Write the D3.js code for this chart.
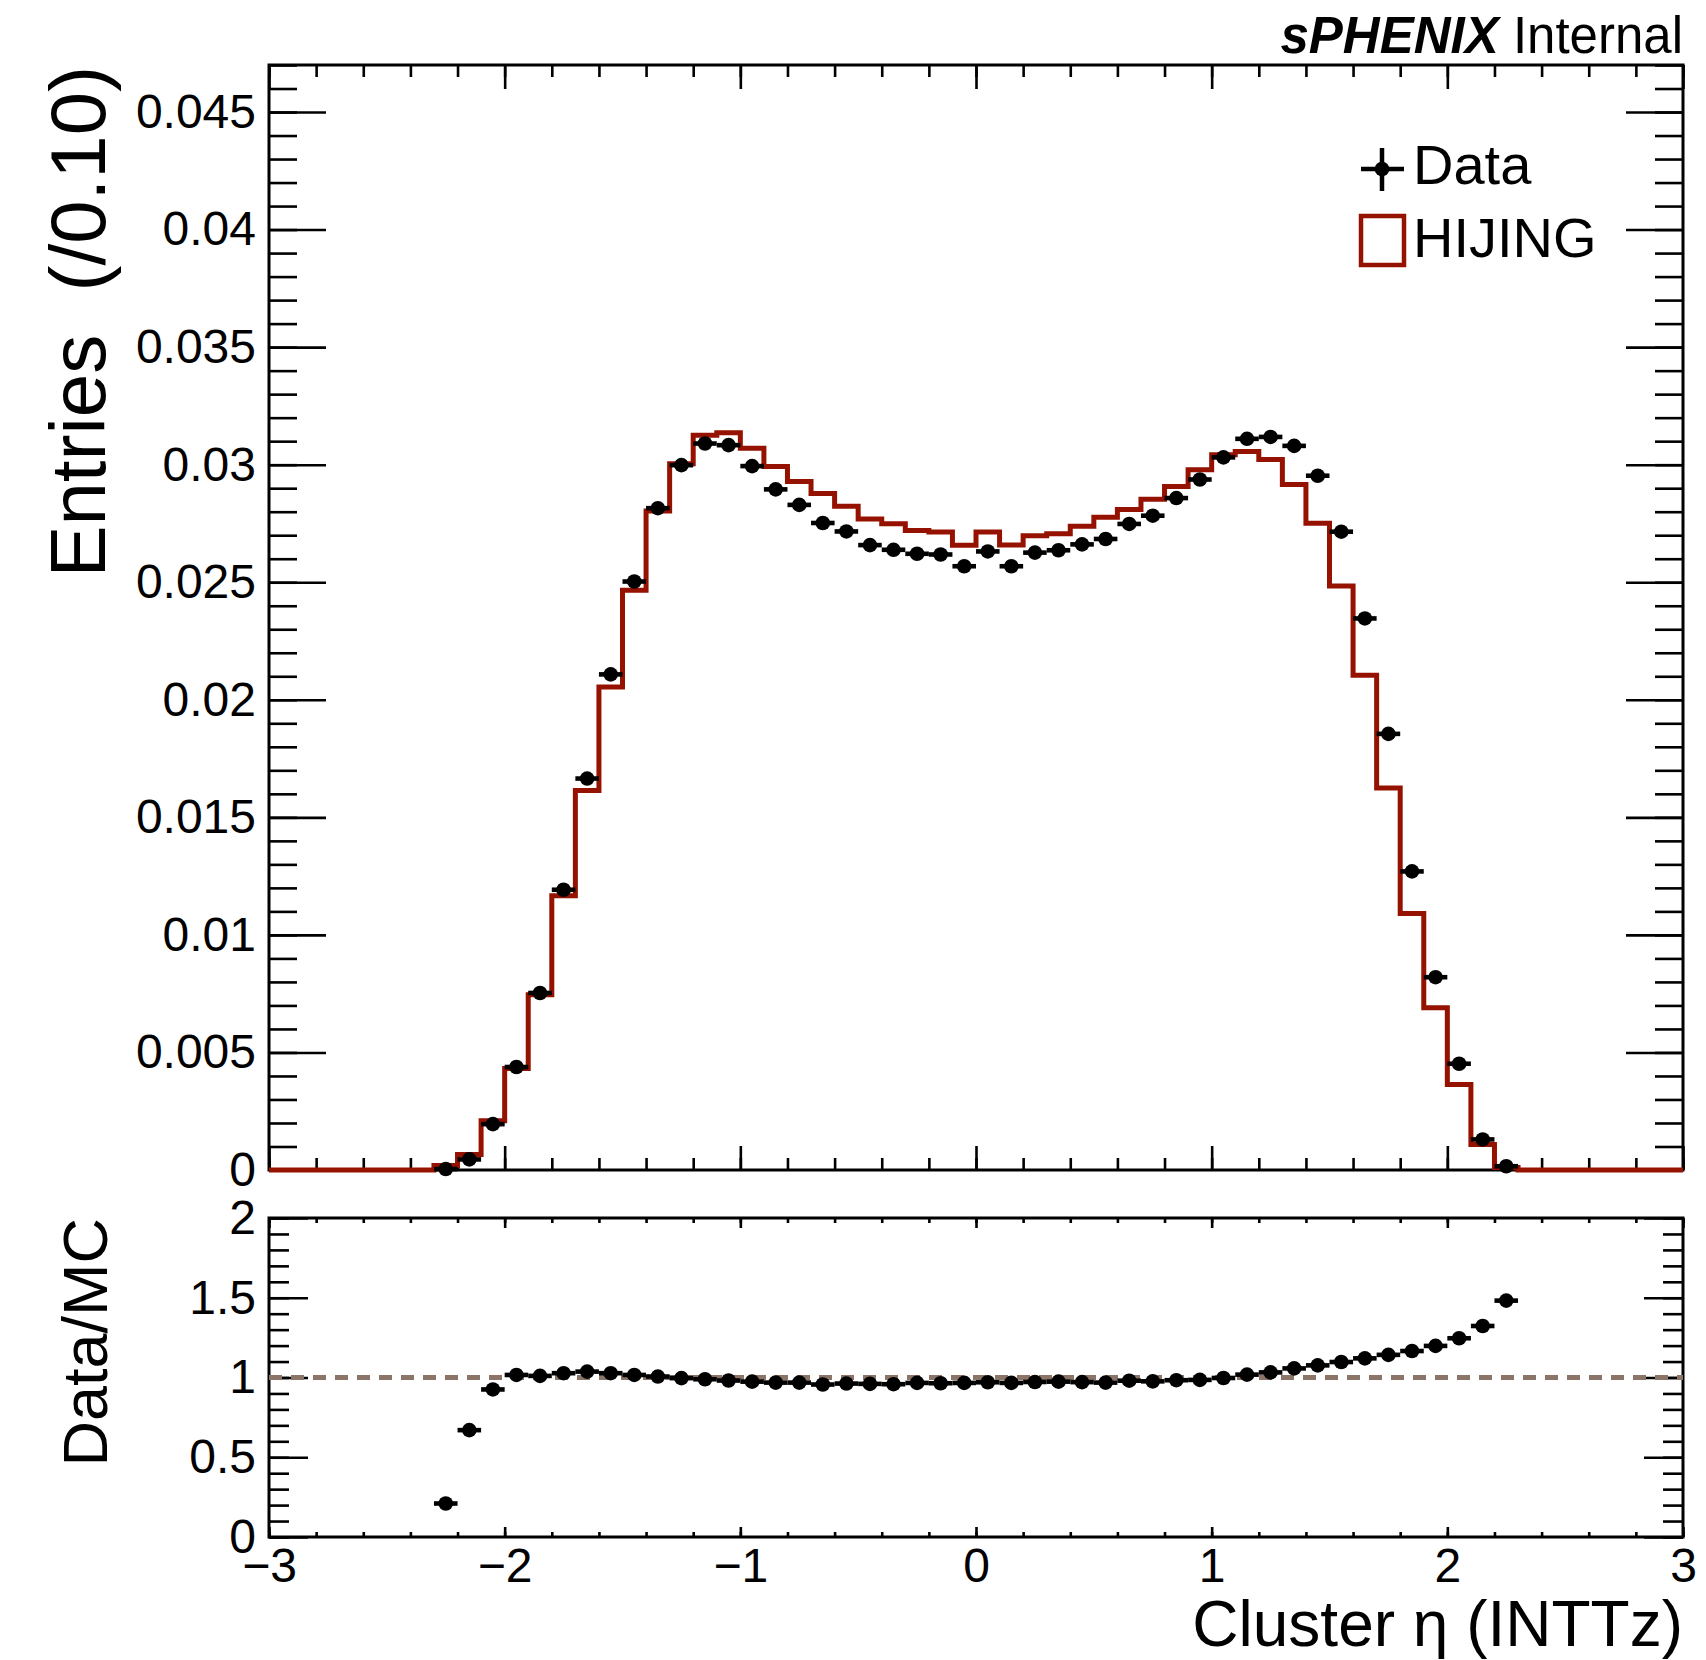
<!DOCTYPE html>
<html>
<head>
<meta charset="utf-8">
<script src="https://cdn.jsdelivr.net/npm/d3@7/dist/d3.min.js"></script>
<style>
  body { margin: 0; background: #fff; }
  text { font-family: "Liberation Sans", Arial, Helvetica, sans-serif; fill: #000; }
</style>
</head>
<body>
<svg id="chart" width="1706" height="1660"></svg>
<script>
// bin centres of the filled bins (bin width 0.10)
const etaCenters = [
  -2.25, -2.15, -2.05, -1.95, -1.85, -1.75, -1.65, -1.55, -1.45, -1.35,
  -1.25, -1.15, -1.05, -0.95, -0.85, -0.75, -0.65, -0.55, -0.45, -0.35,
  -0.25, -0.15, -0.05, 0.05, 0.15, 0.25, 0.35, 0.45, 0.55, 0.65,
  0.75, 0.85, 0.95, 1.05, 1.15, 1.25, 1.35, 1.45, 1.55, 1.65,
  1.75, 1.85, 1.95, 2.05, 2.15, 2.25
];

const dataValues = [
  0.00004, 0.00045, 0.00195, 0.00438, 0.00753, 0.01192, 0.01665, 0.02108, 0.02503, 0.02815,
  0.02998, 0.03090, 0.03083, 0.02994, 0.02895, 0.02829, 0.02752, 0.02716, 0.02658, 0.02638,
  0.02621, 0.02618, 0.02568, 0.02631, 0.02568, 0.02626, 0.02636, 0.02661, 0.02684, 0.02748,
  0.02783, 0.02858, 0.02937, 0.03031, 0.03110, 0.03118, 0.03080, 0.02953, 0.02715, 0.02346,
  0.01855, 0.01270, 0.00820, 0.00452, 0.00130, 0.00016
];

const hijingValues = [
  0.00019, 0.00066, 0.00210, 0.00432, 0.00745, 0.01166, 0.01614, 0.02054, 0.02466, 0.02803,
  0.03004, 0.03125, 0.03136, 0.03070, 0.02992, 0.02928, 0.02877, 0.02823, 0.02769, 0.02749,
  0.02720, 0.02714, 0.02657, 0.02714, 0.02658, 0.02698, 0.02706, 0.02738, 0.02776, 0.02809,
  0.02853, 0.02907, 0.02978, 0.03042, 0.03056, 0.03022, 0.02916, 0.02751, 0.02484, 0.02104,
  0.01625, 0.01091, 0.00690, 0.00364, 0.00108, 0.00011
];

const ratioValues = [
  0.21, 0.67, 0.925, 1.016, 1.010, 1.027, 1.037, 1.027, 1.016, 1.006,
  0.996, 0.989, 0.981, 0.974, 0.968, 0.968, 0.956, 0.962, 0.960, 0.958,
  0.966, 0.964, 0.966, 0.970, 0.966, 0.972, 0.974, 0.971, 0.968, 0.980,
  0.976, 0.983, 0.985, 0.997, 1.018, 1.032, 1.057, 1.076, 1.097, 1.120,
  1.142, 1.166, 1.198, 1.246, 1.323, 1.482
];

const xTicks = [-3, -2, -1, 0, 1, 2, 3];
const xTickLabels = ["\u22123", "\u22122", "\u22121", "0", "1", "2", "3"];
const yTicks = [0, 0.005, 0.01, 0.015, 0.02, 0.025, 0.03, 0.035, 0.04, 0.045];
const yTickLabels = ["0", "0.005", "0.01", "0.015", "0.02", "0.025", "0.03", "0.035", "0.04", "0.045"];
const ratioTicks = [0, 0.5, 1, 1.5, 2];
const ratioTickLabels = ["0", "0.5", "1", "1.5", "2"];

const binWidth = 0.1;
const histColor = "#961200";
const dashColor = "#8b7468";

const svg = d3.select("#chart");

const left = 269, right = 1683;
const topY0 = 65, topY1 = 1170;
const botY0 = 1218, botY1 = 1537;

const x = d3.scaleLinear().domain([-3, 3]).range([left, right]);
const yTop = d3.scaleLinear().domain([0, 0.047]).range([topY1, topY0]);
const yBot = d3.scaleLinear().domain([0, 2]).range([botY1, botY0]);

const xMinor = d3.range(-3, 3.0001, 0.2);

const drawAxes = (yScale, y0, y1, yMajor, yMinor, yLabels, opt) => {
    const g = svg.append("g").attr("class", "axes");

    const strip = sel => {
        sel.select(".domain").remove();
        sel.selectAll("line").attr("stroke", "#000").attr("stroke-width", 2.6);
    };

    // x ticks, bottom and top edge
    g.append("g").attr("transform", `translate(0,${y1})`)
        .call(d3.axisBottom(x).tickValues(xMinor).tickSize(-opt.xMinorLen).tickFormat(""))
        .call(strip);
    g.append("g").attr("transform", `translate(0,${y1})`)
        .call(d3.axisBottom(x).tickValues(xTicks).tickSize(-opt.xMajorLen).tickPadding(11)
            .tickFormat((d, i) => opt.showX ? xTickLabels[i] : ""))
        .call(strip);
    g.append("g").attr("transform", `translate(0,${y0})`)
        .call(d3.axisTop(x).tickValues(xMinor).tickSize(-opt.xMinorLen).tickFormat(""))
        .call(strip);
    g.append("g").attr("transform", `translate(0,${y0})`)
        .call(d3.axisTop(x).tickValues(xTicks).tickSize(-opt.xMajorLen).tickFormat(""))
        .call(strip);

    // y ticks, left and right edge
    g.append("g").attr("transform", `translate(${left},0)`)
        .call(d3.axisLeft(yScale).tickValues(yMinor).tickSize(-opt.yMinorLen).tickFormat(""))
        .call(strip);
    g.append("g").attr("transform", `translate(${left},0)`)
        .call(d3.axisLeft(yScale).tickValues(yMajor).tickSize(-opt.yMajorLen).tickPadding(13)
            .tickFormat((d, i) => yLabels[i]))
        .call(strip);
    g.append("g").attr("transform", `translate(${right},0)`)
        .call(d3.axisRight(yScale).tickValues(yMinor).tickSize(-opt.yMinorLen).tickFormat(""))
        .call(strip);
    g.append("g").attr("transform", `translate(${right},0)`)
        .call(d3.axisRight(yScale).tickValues(yMajor).tickSize(-opt.yMajorLen).tickFormat(""))
        .call(strip);

    g.selectAll("text")
        .attr("font-size", "48px")
        .attr("font-family", "'Liberation Sans', Arial, sans-serif")
        .attr("fill", "#000");

    g.append("rect")
        .attr("x", left).attr("y", y0)
        .attr("width", right - left).attr("height", y1 - y0)
        .attr("fill", "none").attr("stroke", "#000").attr("stroke-width", 3);
};

// top panel
drawAxes(yTop, topY0, topY1, yTicks, d3.range(0, 0.0471, 0.001), yTickLabels,
    { xMajorLen: 24, xMinorLen: 12, yMajorLen: 57, yMinorLen: 28, showX: false });

// HIJING histogram as a step outline
const histPoints = [{ e: -3, v: 0 }];
etaCenters.forEach((c, i) => histPoints.push({ e: c - binWidth / 2, v: hijingValues[i] }));
histPoints.push({ e: etaCenters[etaCenters.length - 1] + binWidth / 2, v: 0 });
histPoints.push({ e: 3, v: 0 });

svg.append("path")
    .datum(histPoints)
    .attr("fill", "none")
    .attr("stroke", histColor)
    .attr("stroke-width", 5)
    .attr("stroke-linejoin", "miter")
    .attr("d", d3.line().x(d => x(d.e)).y(d => yTop(d.v)).curve(d3.curveStepAfter));

const drawPoints = (values, yScale) => {
    const pts = svg.append("g").selectAll("g")
        .data(etaCenters.map((c, i) => ({ c: c, v: values[i] })))
        .enter().append("g");
    pts.append("line")
        .attr("x1", d => x(d.c - binWidth / 2))
        .attr("x2", d => x(d.c + binWidth / 2))
        .attr("y1", d => yScale(d.v))
        .attr("y2", d => yScale(d.v))
        .attr("stroke", "#000")
        .attr("stroke-width", 4.6);
    pts.append("circle")
        .attr("cx", d => x(d.c))
        .attr("cy", d => yScale(d.v))
        .attr("r", 7.3)
        .attr("fill", "#000");
};

drawPoints(dataValues, yTop);

// ratio panel
drawAxes(yBot, botY0, botY1, ratioTicks, d3.range(0, 2.001, 0.1), ratioTickLabels,
    { xMajorLen: 10, xMinorLen: 5, yMajorLen: 39, yMinorLen: 20, showX: true });

svg.append("line")
    .attr("x1", x(-3)).attr("x2", x(3))
    .attr("y1", yBot(1)).attr("y2", yBot(1))
    .attr("stroke", dashColor)
    .attr("stroke-width", 5)
    .attr("stroke-dasharray", "13 9");

drawPoints(ratioValues, yBot);

// axis titles
svg.append("text")
    .attr("transform", "translate(105,66) rotate(-90)")
    .attr("text-anchor", "end")
    .attr("font-size", "78px")
    .attr("xml:space", "preserve")
    .style("white-space", "pre")
    .text("Entries  (/0.10)");

svg.append("text")
    .attr("transform", "translate(107,1218) rotate(-90)")
    .attr("text-anchor", "end")
    .attr("font-size", "63px")
    .text("Data/MC");

svg.append("text")
    .attr("x", right).attr("y", 1646)
    .attr("text-anchor", "end")
    .attr("font-size", "64px")
    .text("Cluster \u03b7 (INTTz)");

// label
const label = svg.append("text")
    .attr("x", right).attr("y", 53)
    .attr("text-anchor", "end")
    .attr("font-size", "51px");
label.append("tspan").attr("font-weight", "bold").attr("font-style", "italic").text("sPHENIX");
label.append("tspan").text(" Internal");

// legend
const legend = svg.append("g").attr("class", "legend");
legend.append("line").attr("x1", 1361).attr("x2", 1404).attr("y1", 169).attr("y2", 169)
    .attr("stroke", "#000").attr("stroke-width", 4.5);
legend.append("line").attr("x1", 1382).attr("x2", 1382).attr("y1", 148).attr("y2", 191)
    .attr("stroke", "#000").attr("stroke-width", 4.5);
legend.append("circle").attr("cx", 1382).attr("cy", 169).attr("r", 7.3).attr("fill", "#000");
legend.append("text").attr("x", 1413).attr("y", 184).attr("font-size", "56px").text("Data");

legend.append("rect").attr("x", 1361).attr("y", 216).attr("width", 43).attr("height", 49)
    .attr("fill", "none").attr("stroke", histColor).attr("stroke-width", 4.5);
legend.append("text").attr("x", 1413).attr("y", 257).attr("font-size", "56px").text("HIJING");
</script>
</body>
</html>
